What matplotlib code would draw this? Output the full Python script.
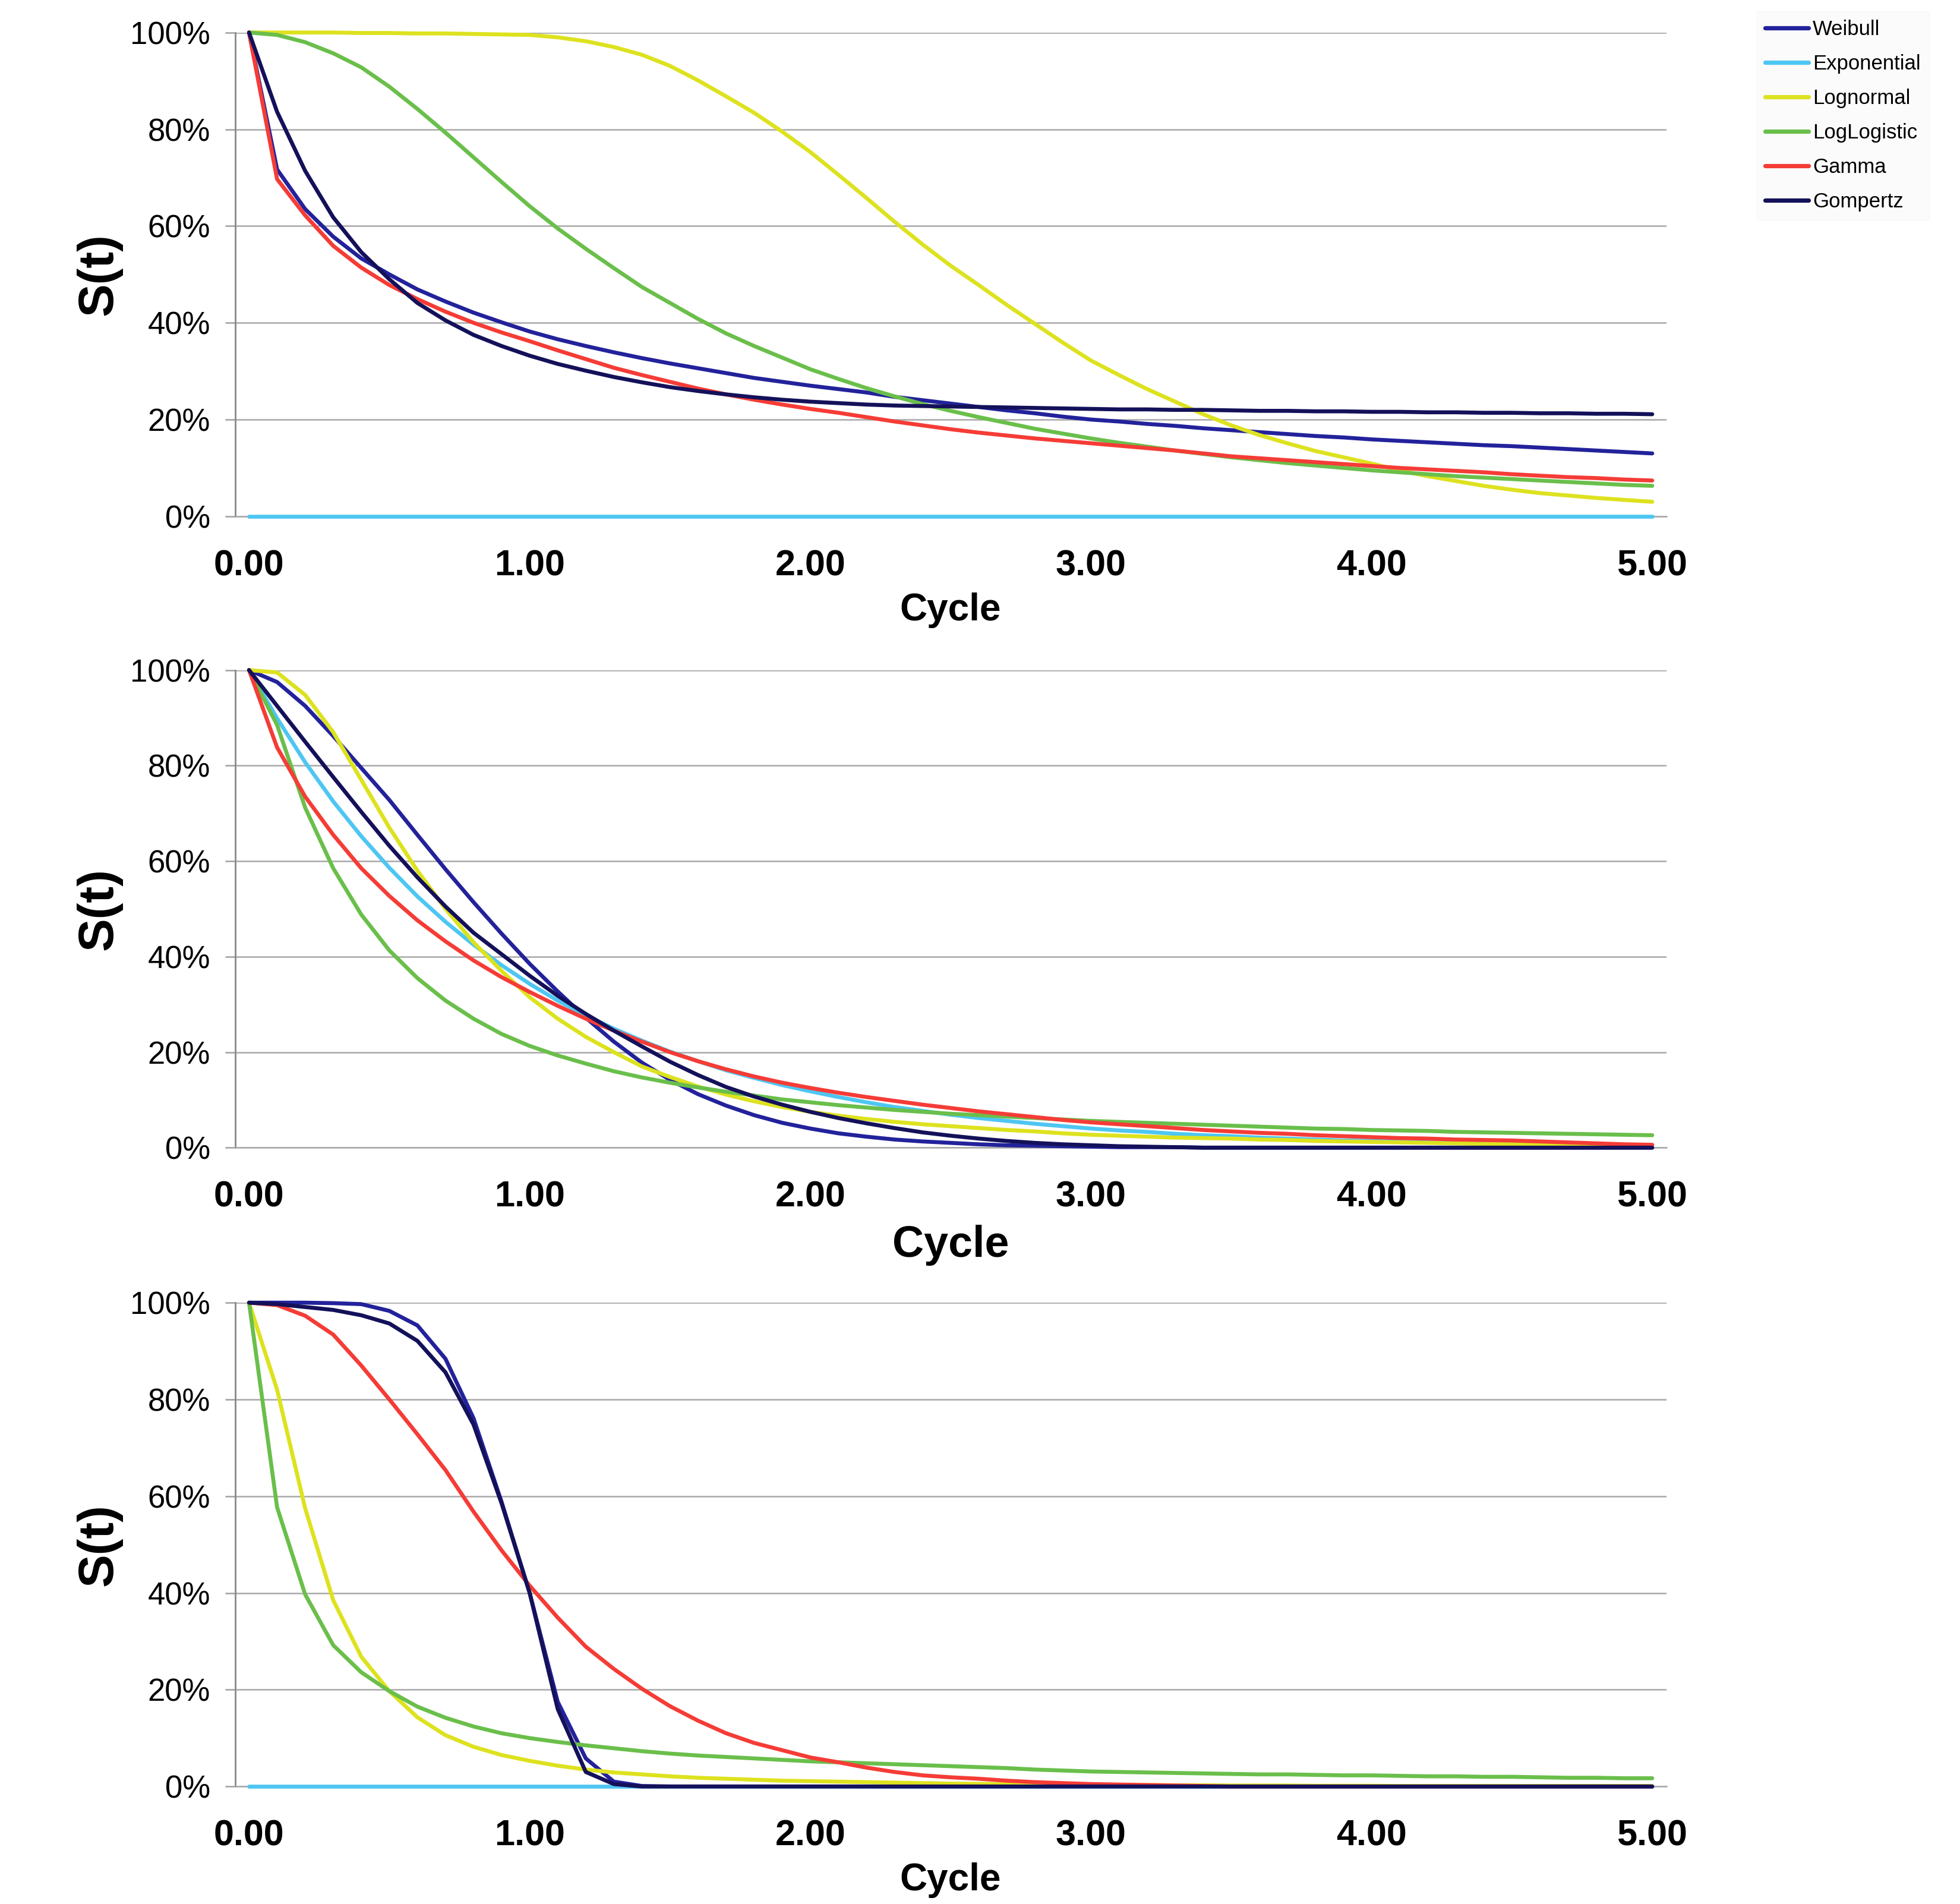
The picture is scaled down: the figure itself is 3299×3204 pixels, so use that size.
import numpy as np
import matplotlib
matplotlib.use("Agg")
import matplotlib.pyplot as plt

plt.rcParams['font.family'] = ['Liberation Sans', 'DejaVu Sans']

# cycle categories 0.00 .. 5.00 in steps of 0.10
cycle = np.linspace(0.0, 5.0, 51)

names = ['Weibull', 'Exponential', 'Lognormal', 'LogLogistic', 'Gamma', 'Gompertz']
colors = ['#23229b', '#4ec6f2', '#dde21f', '#6abf4b', '#f53c36', '#14115a']

# ---- panel 1 ----
weibull_1 = [1.000, .717, .635, .578, .533, .500, .469, .444, .421, .401,
             .382, .366, .352, .339, .327, .316, .306, .296, .286, .278,
             .270, .263, .256, .247, .240, .233, .226, .219, .213, .206,
             .200, .196, .191, .187, .182, .178, .174, .170, .166, .163,
             .159, .156, .153, .150, .147, .145, .142, .139, .136, .133,
             .130]
exponential_1 = [0.0] * 51
lognormal_1 = [1.000, 1.000, 1.000, 1.000, .999, .999, .998, .998, .997, .996,
               .995, .990, .982, .970, .954, .931, .901, .868, .834, .795,
               .753, .706, .658, .609, .562, .518, .478, .437, .398, .359,
               .322, .292, .263, .237, .211, .188, .168, .151, .135, .122,
               .109, .095, .083, .073, .063, .055, .048, .043, .038, .034,
               .030]
loglogistic_1 = [1.000, .995, .980, .957, .928, .888, .842, .793, .742, .691,
                 .641, .595, .553, .513, .474, .441, .408, .378, .352, .328,
                 .304, .284, .265, .248, .232, .218, .205, .193, .181, .171,
                 .161, .152, .144, .136, .129, .122, .116, .110, .105, .100,
                 .095, .091, .087, .083, .080, .077, .074, .071, .068, .065,
                 .063]
gamma_1 = [1.000, .697, .622, .559, .514, .478, .449, .423, .400, .380,
           .362, .343, .325, .307, .292, .278, .264, .252, .241, .231,
           .222, .214, .205, .196, .188, .180, .173, .167, .161, .156,
           .151, .146, .141, .136, .130, .124, .120, .116, .112, .108,
           .104, .100, .097, .094, .091, .087, .084, .081, .079, .076,
           .074]
gompertz_1 = [1.000, .836, .714, .618, .546, .490, .441, .405, .375, .352,
              .332, .315, .301, .288, .277, .267, .259, .252, .246, .241,
              .237, .234, .231, .229, .228, .227, .226, .225, .224, .223,
              .222, .221, .221, .220, .220, .219, .218, .218, .217, .217,
              .216, .216, .215, .215, .214, .214, .213, .213, .212, .212,
              .211]

# ---- panel 2 ----
weibull_2 = [1.000, .975, .925, .862, .795, .728, .655, .583, .514, .448,
             .385, .327, .272, .222, .178, .142, .112, .088, .068, .052,
             .040, .030, .023, .017, .013, .010, .007, .005, .004, .003,
             .002, .001, .001, .001, 0, 0, 0, 0, 0, 0,
             0, 0, 0, 0, 0, 0, 0, 0, 0, 0,
             0]
exponential_2 = [1.000, .899, .807, .725, .652, .586, .526, .473, .425, .382,
                 .343, .308, .277, .249, .224, .201, .181, .162, .146, .131,
                 .118, .106, .095, .085, .077, .069, .062, .056, .050, .045,
                 .040, .036, .033, .029, .026, .024, .021, .019, .017, .015,
                 .014, .012, .011, .010, .009, .008, .007, .007, .006, .005,
                 .005]
lognormal_2 = [1.000, .995, .948, .870, .770, .670, .580, .500, .430, .370,
               .315, .270, .232, .200, .170, .148, .128, .111, .097, .085,
               .075, .067, .060, .054, .049, .045, .041, .037, .034, .030,
               .027, .025, .023, .021, .020, .019, .017, .016, .014, .013,
               .012, .011, .010, .009, .008, .007, .006, .005, .004, .003,
               .002]
loglogistic_2 = [1.000, .885, .712, .585, .488, .413, .355, .308, .270, .238,
                 .213, .193, .176, .160, .147, .136, .126, .117, .109, .101,
                 .095, .089, .084, .079, .075, .071, .068, .065, .062, .059,
                 .056, .054, .052, .050, .048, .046, .044, .042, .040, .039,
                 .037, .036, .035, .033, .032, .031, .030, .029, .028, .027,
                 .026]
gamma_2 = [1.000, .838, .735, .655, .585, .527, .476, .432, .392, .357,
           .326, .297, .270, .245, .222, .200, .181, .164, .149, .136,
           .125, .115, .106, .098, .090, .083, .076, .070, .064, .058,
           .053, .049, .045, .041, .037, .034, .031, .029, .026, .024,
           .022, .020, .019, .017, .016, .015, .013, .011, .009, .007,
           .006]
gompertz_2 = [1.000, .925, .850, .776, .703, .632, .566, .505, .450, .405,
              .360, .318, .280, .245, .212, .180, .152, .127, .107, .090,
              .075, .062, .051, .041, .032, .025, .019, .014, .010, .007,
              .005, .003, .002, .001, 0, 0, 0, 0, 0, 0,
              0, 0, 0, 0, 0, 0, 0, 0, 0, 0,
              0]

# ---- panel 3 ----
weibull_3 = [1.000, 1.000, 1.000, .999, .997, .983, .953, .884, .761, .588,
             .400, .175, .058, .010, .001] + [0.0] * 36
exponential_3 = [0.0] * 51
lognormal_3 = [1.000, .820, .575, .385, .268, .197, .143, .106, .082, .065,
               .053, .043, .035, .029, .025, .021, .018, .016, .014, .012,
               .011, .010, .009, .008, .007, .006, .0055, .005, .0045, .004,
               .0035, .003, .003, .0025, .0025, .002, .002, .002, .0015, .0015,
               .0015, .001, .001, .001, .001, .001, .001, .001, .001, .001,
               .001]
loglogistic_3 = [1.000, .577, .397, .292, .236, .197, .165, .142, .124, .110,
                 .100, .092, .085, .079, .073, .068, .064, .061, .058, .055,
                 .052, .050, .048, .046, .044, .042, .040, .038, .035, .033,
                 .031, .030, .029, .028, .027, .026, .025, .025, .024, .023,
                 .023, .022, .021, .021, .020, .020, .019, .018, .018, .017,
                 .017]
gamma_3 = [1.000, .995, .973, .934, .870, .800, .728, .654, .568, .488,
           .415, .349, .289, .243, .202, .166, .136, .110, .090, .075,
           .060, .050, .039, .030, .023, .019, .016, .012, .009, .007,
           .005, .004, .003, .002, .001] + [0.0] * 16
gompertz_3 = [1.000, .997, .991, .985, .974, .957, .921, .856, .748, .585,
              .400, .160, .030, .005] + [0.0] * 37

panels = [
    [weibull_1, exponential_1, lognormal_1, loglogistic_1, gamma_1, gompertz_1],
    [weibull_2, exponential_2, lognormal_2, loglogistic_2, gamma_2, gompertz_2],
    [weibull_3, exponential_3, lognormal_3, loglogistic_3, gamma_3, gompertz_3],
]

W, H = 1568.0, 1523.0   # layout measured on the shrunk reference
ax_left, ax_right = 188, 1333
ax_rows = [(26, 413), (536, 918), (1042, 1429)]
cycle_label_y = [488, 996, 1504]
cycle_label_size = [23, 26.5, 23]

fig = plt.figure(figsize=(3299 / 200, 3204 / 200), dpi=200)

handles = []
for i, series in enumerate(panels):
    top, bot = ax_rows[i]
    ax = fig.add_axes([ax_left / W, 1 - bot / H, (ax_right - ax_left) / W, (bot - top) / H])
    for ys, c in zip(series, colors):
        ln, = ax.plot(cycle, ys, color=c, lw=2.4, clip_on=False,
                      solid_joinstyle='round', solid_capstyle='round', zorder=3)
        if i == 0:
            handles.append(ln)

    ax.set_xlim(-0.05, 5.05)
    ax.set_ylim(0, 1)
    ax.set_yticks(np.arange(0, 1.01, 0.2))
    ax.set_yticklabels([f"{int(round(v * 100))}%" for v in np.arange(0, 1.01, 0.2)], fontsize=19)
    ax.set_xticks([0, 1, 2, 3, 4, 5])
    ax.set_xticklabels([f"{v:.2f}" for v in range(6)], fontsize=22, fontweight='bold')
    ax.tick_params(axis='y', length=6, width=0.9, color='#a0a0a0', pad=9)
    ax.tick_params(axis='x', length=0, pad=20)
    ax.grid(axis='y', color='#a8a8a8', lw=0.9)
    ax.set_axisbelow(True)
    for s in ['top', 'right']:
        ax.spines[s].set_visible(False)
    ax.spines['left'].set_color('#888888')
    ax.spines['left'].set_linewidth(1.0)
    ax.spines['bottom'].set_color('#a8a8a8')
    ax.spines['bottom'].set_linewidth(0.9)

    fig.text(79 / W, 1 - (top + bot) / 2 / H, 'S(t)', rotation=90, ha='center', va='center',
             fontsize=30, fontweight='bold')
    fig.text((ax_left + ax_right) / 2 / W, 1 - cycle_label_y[i] / H, 'Cycle', ha='center',
             va='center', fontsize=cycle_label_size[i], fontweight='bold')

leg = fig.legend(handles, names, loc='upper left', bbox_to_anchor=(2940 / 3299, 1 - 2 / 3204),
                 fontsize=12.5, handlelength=2.1, handletextpad=0.2, labelspacing=0.72,
                 borderpad=0.4, frameon=True, fancybox=False)
leg.get_frame().set_facecolor('#fafafa')
leg.get_frame().set_edgecolor('#fafafa')
for lh in leg.get_lines():
    lh.set_linewidth(2.6)

fig.savefig('out.png', dpi=200)
